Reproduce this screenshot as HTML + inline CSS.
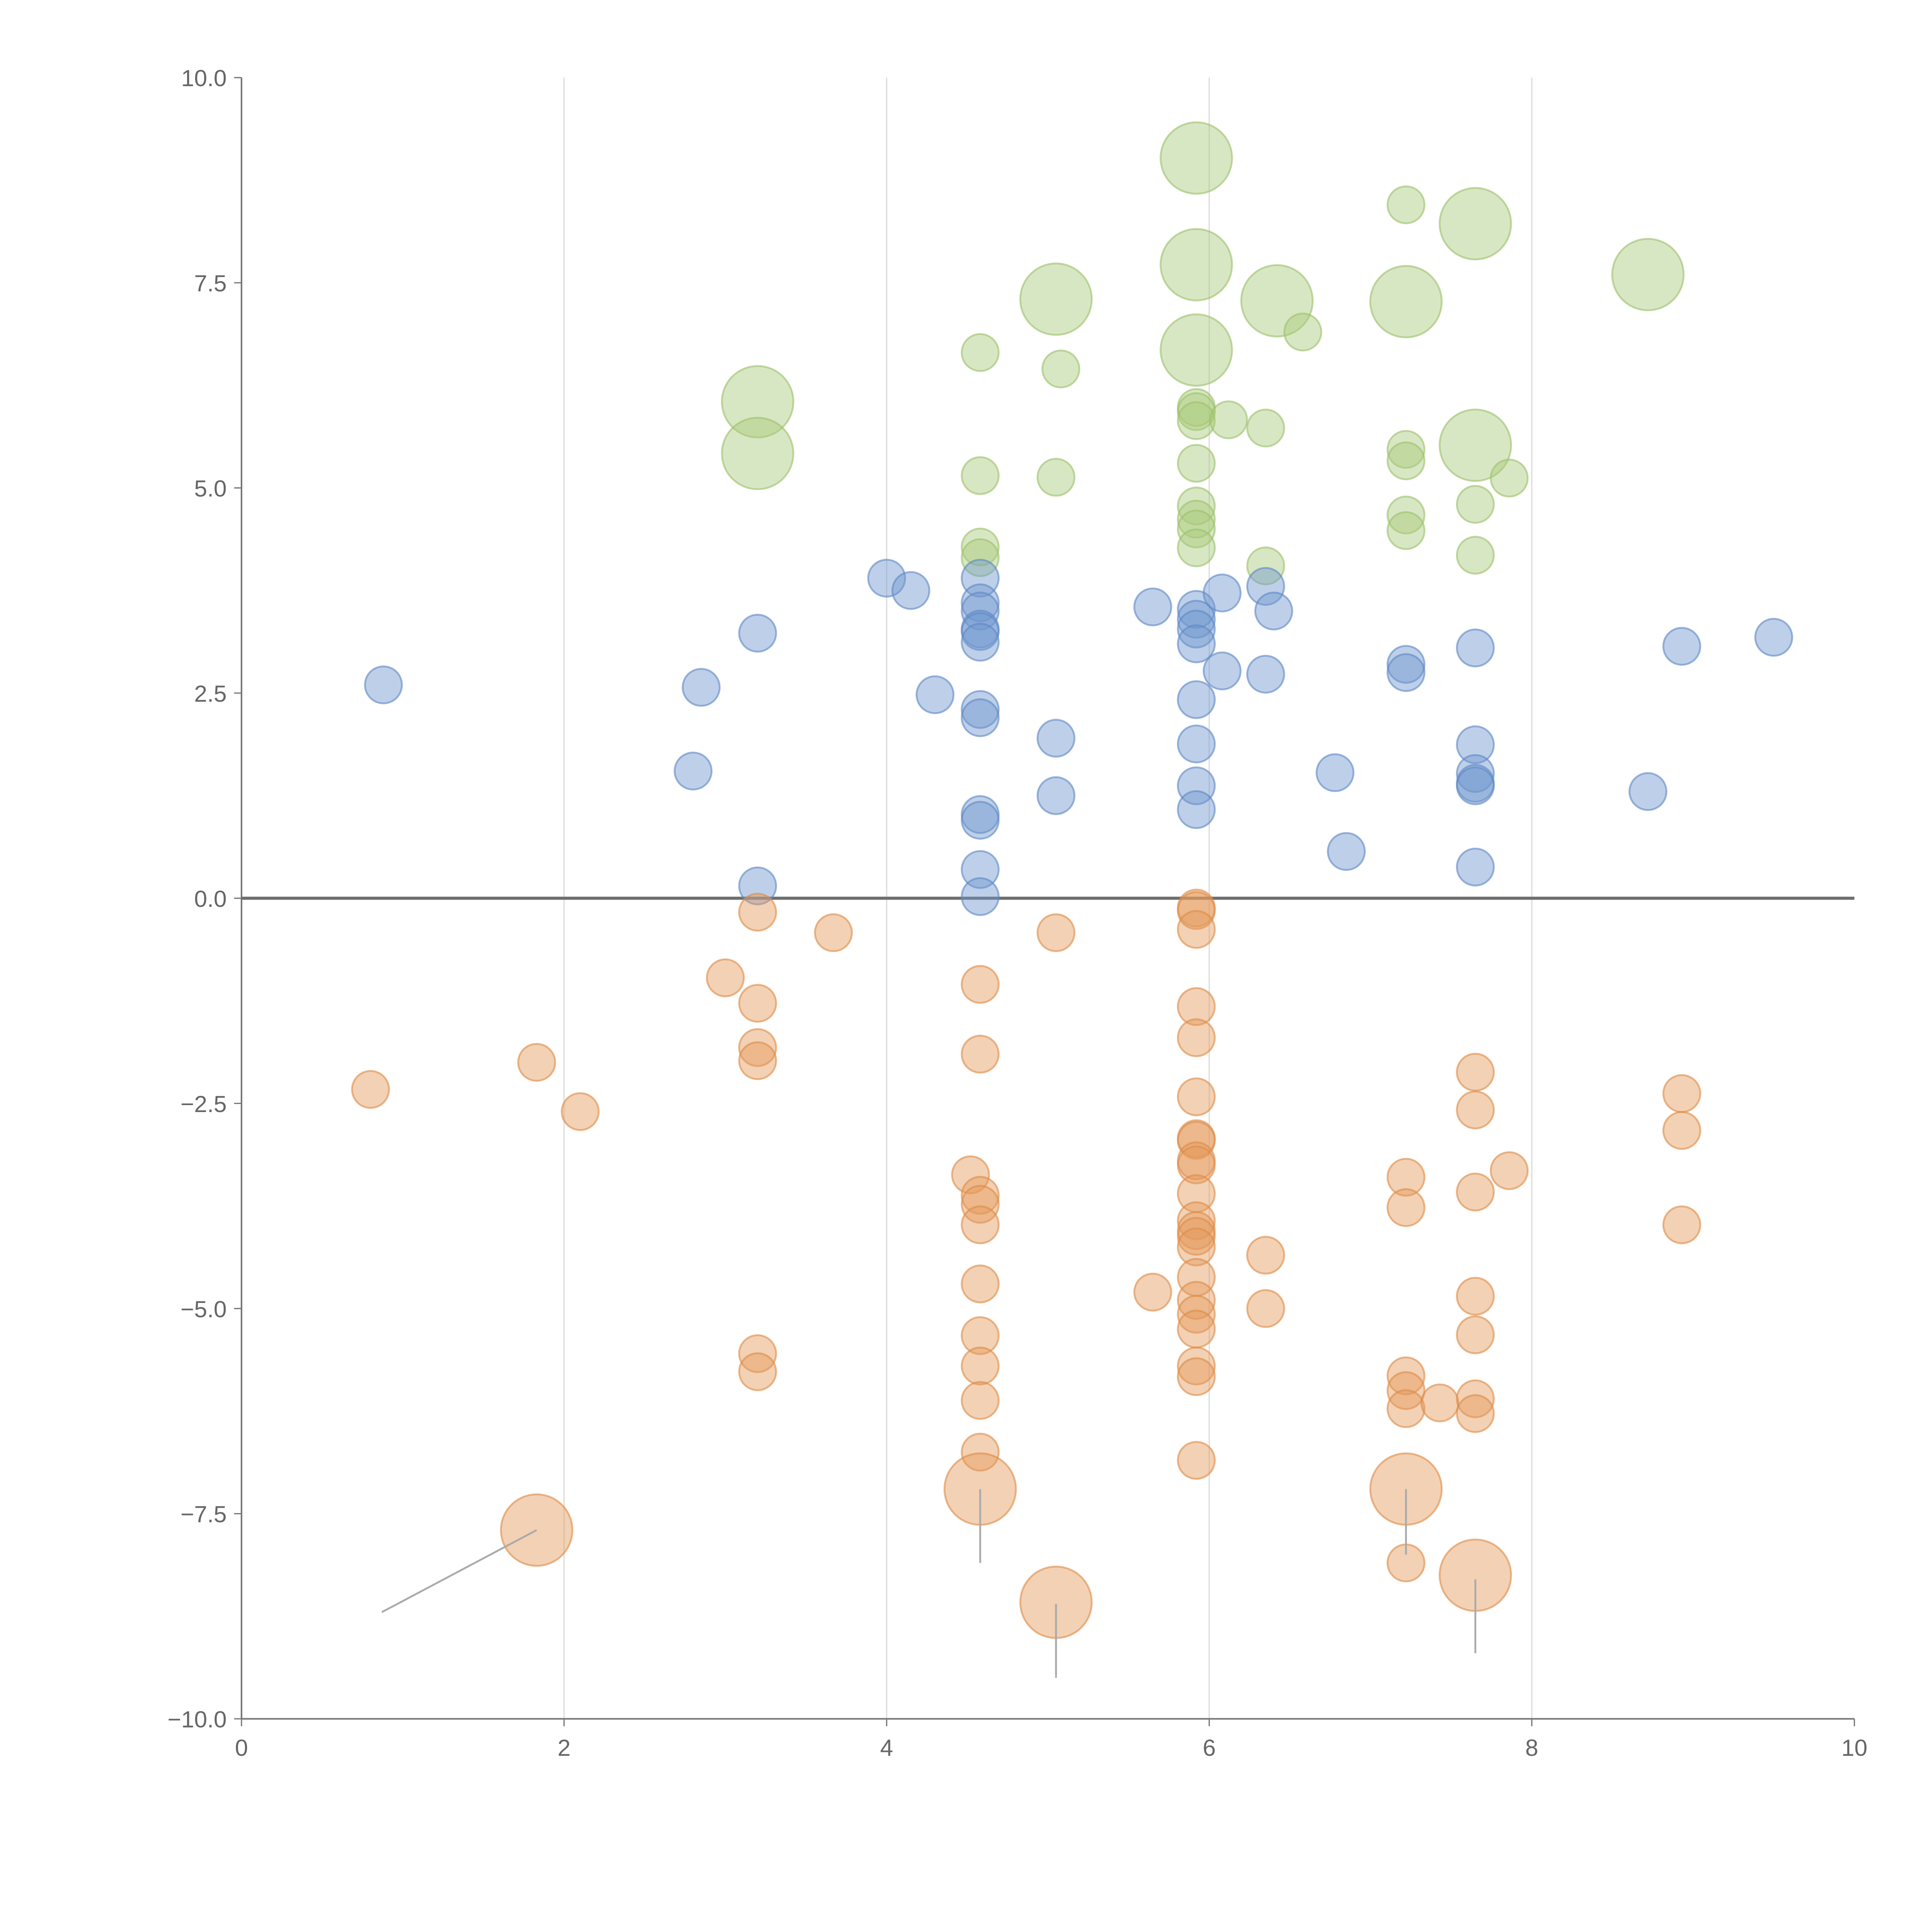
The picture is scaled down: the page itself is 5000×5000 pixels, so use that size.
<!DOCTYPE html>
<html><head><meta charset="utf-8"><style>
html,body{margin:0;padding:0;background:#fff;}
svg{display:block;}
text{font-family:"Liberation Sans",sans-serif;fill:#666;}
</style></head><body>
<svg id="chart" width="5000" height="5000" viewBox="0 0 1568 1568" xmlns="http://www.w3.org/2000/svg">
<g id="grid"></g>
<g id="axes"></g>
<g id="leaders"></g>
<g id="marks"></g>
</svg>
<script>
const xTicks=[0,2,4,6,8,10];
const yTicks=[10,7.5,5,2.5,0,-2.5,-5,-7.5,-10];
const blueX=[0.88,2.85,2.8,3.2,3.2,4.0,4.15,4.3,4.58,4.58,4.58,4.58,4.58,4.58,4.58,4.58,4.58,4.58,4.58,4.58,5.05,5.05,5.65,5.92,5.92,5.92,5.92,5.92,5.92,5.92,5.92,6.08,6.08,6.35,6.35,6.4,6.78,6.85,7.22,7.22,7.65,7.65,7.65,7.65,7.65,7.65,8.72,8.93,9.5];
const blueY=[2.6,2.57,1.55,3.23,0.15,3.9,3.75,2.48,3.9,3.6,3.5,3.28,3.25,3.12,2.3,2.2,1.02,0.95,0.35,0.02,1.95,1.25,3.55,3.52,3.4,3.28,3.1,2.42,1.88,1.37,1.08,3.72,2.77,3.8,2.73,3.5,1.53,0.57,2.85,2.75,3.05,1.87,1.52,1.4,1.37,0.38,1.3,3.07,3.18];
const greenX=[3.2,3.2,4.58,4.58,4.58,4.58,5.05,5.08,5.05,5.92,5.92,5.92,5.92,5.92,5.92,5.92,5.92,5.92,5.92,5.92,6.12,6.35,6.35,6.42,6.58,7.22,7.22,7.22,7.22,7.22,7.22,7.65,7.65,7.86,7.65,7.65,8.72];
const greenY=[6.05,5.42,6.65,5.15,4.28,4.15,7.3,6.45,5.13,9.02,7.72,6.68,5.98,5.93,5.82,5.3,4.78,4.62,4.5,4.27,5.83,5.73,4.05,7.28,6.9,8.45,7.27,5.47,5.33,4.67,4.48,8.22,5.52,5.12,4.8,4.18,7.6];
const greenS=[2,2,1,1,1,1,2,1,1,2,2,2,1,1,1,1,1,1,1,1,1,1,1,2,1,1,2,1,1,1,1,2,2,1,1,1,2];
const orangeX=[0.8,1.83,2.1,1.83,3.0,3.2,3.2,3.2,3.2,3.2,3.2,3.67,4.52,4.58,4.58,4.58,4.58,4.58,4.58,4.58,4.58,4.58,4.58,4.58,5.05,5.05,5.65,5.92,5.92,5.92,5.92,5.92,5.92,5.92,5.92,5.92,5.92,5.92,5.92,5.92,5.92,5.92,5.92,5.92,5.92,5.92,5.92,5.92,5.92,6.35,6.35,7.22,7.22,7.22,7.22,7.22,7.22,7.22,7.43,7.65,7.65,7.65,7.65,7.65,7.65,7.65,7.65,7.86,8.93,8.93,8.93];
const orangeY=[-2.33,-2.0,-2.6,-7.7,-0.97,-0.17,-1.28,-1.82,-1.98,-5.55,-5.77,-0.42,-3.37,-3.62,-3.73,-3.98,-1.05,-1.9,-4.7,-5.33,-5.7,-6.12,-6.75,-7.2,-0.42,-8.58,-4.8,-0.12,-0.15,-0.38,-1.32,-1.7,-2.42,-2.93,-2.95,-3.2,-3.25,-3.6,-3.93,-4.05,-4.12,-4.25,-4.62,-4.9,-5.07,-5.25,-5.7,-5.83,-6.85,-4.35,-5.0,-3.4,-3.77,-5.82,-6.0,-6.22,-7.2,-8.1,-6.15,-2.12,-2.58,-3.58,-4.85,-5.32,-6.1,-6.28,-8.25,-3.32,-2.38,-2.83,-3.98];
const orangeS=[1,1,1,2,1,1,1,1,1,1,1,1,1,1,1,1,1,1,1,1,1,1,1,2,1,2,1,1,1,1,1,1,1,1,1,1,1,1,1,1,1,1,1,1,1,1,1,1,1,1,1,1,1,1,1,1,2,1,1,1,1,1,1,1,1,1,2,1,1,1,1];
const leaderFrom=[[1.83,-7.7],[4.58,-7.2],[5.05,-8.6],[7.22,-7.2],[7.65,-8.3]];
const leaderTo=[[0.87,-8.7],[4.58,-8.1],[5.05,-9.5],[7.22,-8.0],[7.65,-9.2]];

const NS="http://www.w3.org/2000/svg";
const X=v=>196+(v/10)*(1505-196);
const Y=v=>63+((10-v)/20)*(1395-63);
function mk(tag,attrs,parent){const e=document.createElementNS(NS,tag);for(const k in attrs)e.setAttribute(k,attrs[k]);parent.appendChild(e);return e;}
const grid=document.getElementById('grid'),axes=document.getElementById('axes'),marks=document.getElementById('marks'),leaders=document.getElementById('leaders');
xTicks.forEach(t=>{
  if(t>0&&t<10){const g=mk('line',{x1:X(t),x2:X(t),y1:Y(10),y2:Y(-10),stroke:'#dcdcdc','stroke-width':1},grid);
    
    }
  const tk=mk('line',{x1:X(t),x2:X(t),y1:Y(-10),y2:Y(-10)+6,stroke:'#777','stroke-width':1},axes);
  
  
  const tx=mk('text',{x:X(t),y:Y(-10)+30,'text-anchor':'middle','font-size':19},axes);
  tx.textContent=String(t);
  
  
});
yTicks.forEach(t=>{
  const tk=mk('line',{x1:X(0)-6,x2:X(0),y1:Y(t),y2:Y(t),stroke:'#777','stroke-width':1},axes);
  
  
  const tx=mk('text',{x:X(0)-12,y:Y(t)+7,'text-anchor':'end','font-size':19},axes);
  tx.textContent=(t<0?'\u2212':'')+Math.abs(t).toFixed(1);
  
  
});
const ya=mk('line',{x1:X(0),x2:X(0),y1:Y(10),y2:Y(-10),stroke:'#777','stroke-width':1.3},axes);


const xa=mk('line',{x1:X(0),x2:X(10),y1:Y(-10),y2:Y(-10),stroke:'#777','stroke-width':1.3},axes);


const zl=mk('line',{x1:X(0),x2:X(10),y1:Y(0),y2:Y(0),stroke:'#6e6e6e','stroke-width':2.5},axes);


leaderFrom.forEach((f,i)=>{
  const l=mk('line',{x1:X(f[0]),y1:Y(f[1]),x2:X(leaderTo[i][0]),y2:Y(leaderTo[i][1]),stroke:'#aaa','stroke-width':1.5},leaders);
  
  
});
function series(xs,ys,ss,fill,stroke,name){
  xs.forEach((x,i)=>{
    const r=(ss&&ss[i]===2)?29:15;
    const c=mk('circle',{cx:X(x),cy:Y(ys[i]),r:r,fill:fill,'fill-opacity':0.45,stroke:stroke,'stroke-opacity':0.6,'stroke-width':1.5},marks);
    
    
  });
}
series(greenX,greenY,greenS,'#a9c97a','#9cbf6a','green-bubble');
series(blueX,blueY,null,'#6f97cf','#5d87c4','blue-bubble');
series(orangeX,orangeY,orangeS,'#e59a5c','#de8a45','orange-bubble');
// move leaders above bubbles like reference
marks.parentNode.appendChild(leaders);
</script>
</body></html>
